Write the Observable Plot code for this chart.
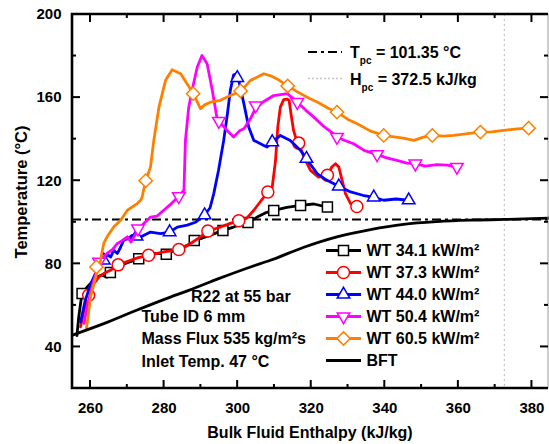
<!DOCTYPE html>
<html>
<head>
<meta charset="utf-8">
<script src="https://cdn.jsdelivr.net/npm/d3@7"></script>
<script src="https://cdn.jsdelivr.net/npm/@observablehq/plot@0.6"></script>
<style>
  html, body { margin: 0; padding: 0; background: #ffffff; }
  #chart { width: 549px; height: 444px; }
</style>
</head>
<body>
<div id="chart"></div>
<script>
// ---------- values (H in kJ/kg, T in °C) ----------
const xTicks = [260, 280, 300, 320, 340, 360, 380];
const xMinorTicks = [270, 290, 310, 330, 350, 370];
const yTicks = [40, 80, 120, 160, 200];
const yMinorTicks = [60, 100, 140, 180];
const xDomain = [255.1, 384.5];
const yDomain = [20, 200];
const tpcValue = [101.35];
const hpcValue = [372.5];

const xTitle = "Bulk Fluid Enthalpy (kJ/kg)";
const yTitle = "Temperature (°C)";
const seriesLabels = ["WT 34.1 kW/m²", "WT 37.3 kW/m²", "WT 44.0 kW/m²", "WT 50.4 kW/m²", "WT 60.5 kW/m²", "BFT"];
const annotationLines = ["R22 at 55 bar", "Tube ID 6 mm", "Mass Flux 535 kg/m²s", "Inlet Temp. 47 °C"];

const wt341 = [[256.3,45.5],[256.8,54.5],[257.3,61],[257.7,65.7],[258.5,67.5],[259.1,68.9],[260.5,71.5],[261.8,73.7],[263,74.6],[264.5,73.6],[265.5,76],[267.3,78.5],[270,80.5],[273.1,82.4],[275,83.8],[277.2,85],[280.6,84.8],[282.5,86.2],[284.5,87.4],[286.5,89],[288.3,91.2],[290.5,92.5],[292.6,93.8],[296,96.1],[298.9,97.7],[300.8,99],[302.8,99.9],[305.3,102.5],[307.5,104.5],[309.8,105.7],[313.4,107.2],[317.1,108.1],[320.7,108.8],[324.4,107.3]];
const wt341Markers = [[257.7,65.7],[265.4,75.8],[273.1,82.4],[280.6,84.6],[288.2,91.2],[296,96.1],[302.8,99.9],[309.8,105.7],[317.1,108.1],[324.4,107.3]];

const wt373 = [[257.3,49.7],[258.2,57.7],[259.5,64.9],[260.9,70.5],[262.3,73.7],[263.6,75.3],[265.4,76.9],[267.5,79.5],[270.9,81.7],[273,83],[275.8,84.1],[279.9,85.7],[284,86.9],[287.2,89.8],[289.5,92.5],[291.9,95.8],[295.3,97.7],[298,99.5],[300.3,100.7],[302.5,102],[304.4,105.8],[306.2,110],[308.2,114.6],[309.4,117],[310.3,129.8],[310.9,145.8],[311.6,155.4],[312.5,159],[313.5,159.3],[314,158.6],[314.5,152.2],[315.2,144.2],[316,139.4],[316.6,138.1],[318,131.4],[319.8,125],[322,121.7],[324.4,122.6],[325.6,126.6],[326.6,128.2],[327.5,126.6],[328.4,120.2],[329.3,113.8],[330.7,109],[332.4,107.6]];
const wt373Markers = [[259.5,64.9],[267.5,79.5],[275.8,84.1],[284,86.9],[291.9,95.8],[300.3,100.7],[308.2,114.6],[316.6,138.1],[324.4,122.6],[332.4,107.6]];

const wt440 = [[257.3,52],[258.5,62],[260,70],[261.5,76],[262.5,79],[263.6,81.7],[264.5,84.5],[265.5,83.3],[266.3,86.5],[267.3,85],[268.2,88.1],[269,91.3],[270.5,92.5],[271.3,93.7],[272.5,93],[273.6,92.9],[276.3,95.3],[279,94.5],[281.5,95.3],[283.6,97.7],[286.3,98.6],[288.5,100],[291,103.4],[292.5,107],[293.5,113.8],[294.8,125],[296.2,139.4],[297.2,152],[298,163.5],[298.9,171],[299.5,171.3],[300.3,168.3],[301.7,157],[303,145.8],[304.4,139.4],[305.3,138.6],[307.1,137],[308,136.2],[309.4,138.6],[311.6,141.8],[314.3,139.4],[317.1,134.6],[318.7,130.6],[321.6,123.4],[324.3,120.2],[327.5,117.3],[330.7,114.6],[334,113],[337,112],[339.7,110.6],[343,111.2],[346.5,110.6]];
const wt440Markers = [[263.6,81.7],[272.5,93.2],[281.5,95.3],[291,103.4],[299.9,169.5],[309.4,138.6],[318.7,130.6],[327.5,117.3],[337,112],[346.5,110.6]];

const wt504 = [[258.2,51.3],[259.1,59.3],[260,66],[260.9,72],[262.3,80.5],[263.5,83],[264.5,85],[266,87],[267.3,89.8],[268.5,91],[270,93],[271,90.5],[273.1,97],[276.3,102.5],[278.1,103],[279.9,105.8],[282,109],[284,112.5],[285.4,115.4],[285.8,139.4],[286.7,155.4],[287.6,163.4],[289,174.6],[290.3,180.3],[291.7,176.3],[293.1,163.5],[294.4,149.9],[295.5,147.5],[297.1,144.2],[298.9,141],[300.5,144],[301.7,145],[303.5,149.9],[305,155.4],[307,158],[309.8,161],[313.5,161.9],[316.2,157.8],[318.5,154],[320.7,150.6],[323.5,146],[326.1,142.6],[327,141],[329,139.5],[331.5,137.8],[334.5,134.5],[337.9,132.7],[340.5,131],[343.3,129.8],[346,128.5],[348.3,128.2],[351,127],[354.2,127.7],[357,127.5],[359.6,126.6]];
const wt504Markers = [[262.3,81],[272.9,96.9],[284,112.5],[294.9,148.7],[304.9,156.2],[316.2,157.8],[327,141],[337.9,132.7],[348.3,128.2],[359.6,126.6]];

const wt605 = [[258.9,49],[259.5,57],[260,64],[261,71],[261.8,76],[262.7,81.7],[263.6,89.8],[264.5,93],[266.3,97.7],[268.2,101],[270,105.8],[272.7,109],[273.6,110.6],[274,112],[275,120],[276.3,126.6],[277.2,139.4],[278.6,155.4],[280.4,168.3],[282.2,173.4],[284.5,171.5],[286.5,166],[287.9,161.9],[289.9,154.7],[291,156.5],[292.6,157.8],[295.3,158.7],[298,161],[300.8,163],[303.5,168.3],[305.5,170],[307.1,171.5],[309,170.5],[310.7,169],[313.4,165.9],[316,163],[318.9,160.2],[322,157.5],[324.5,155],[327,153],[330,149.5],[332.5,147.4],[336,144],[339.7,141.8],[343,141],[345,140.5],[347.9,139.4],[350.5,141],[352.9,141.8],[356,141.5],[358.7,141.8],[362,142.5],[366,143.4],[369,143.5],[372.3,144.2],[376,145],[379.1,145.3]];
const wt605Markers = [[261.6,78.5],[275,120],[287.9,161.9],[300.8,163.2],[313.6,165.6],[327,153],[339.7,141.8],[352.9,141.8],[366,143.4],[379.1,145.3]];

const bft = [[255.1,45.7],[263.6,51.2],[272,57.3],[281.7,64],[286.7,67.2],[295,73],[303.5,78.5],[308.9,81.7],[318,88],[327,93],[336.1,96.5],[345.1,99],[354.2,100.3],[363.3,101],[372.5,101.35],[384.5,102]];

// ---------- styling ----------
const FONT = '"Liberation Sans", Arial, Helvetica, sans-serif';
const triDown = {draw(ctx, size) {
  const y = Math.sqrt(size / (Math.sqrt(3) * 3));
  ctx.moveTo(0, 2 * y); ctx.lineTo(-Math.sqrt(3) * y, -y); ctx.lineTo(Math.sqrt(3) * y, -y); ctx.closePath();
}};
const diamond = {draw(ctx, size) {
  const h = Math.sqrt(size / 2);
  ctx.moveTo(0, -h); ctx.lineTo(h, 0); ctx.lineTo(0, h); ctx.lineTo(-h, 0); ctx.closePath();
}};
const styles = [
  {color: "#000000", symbol: d3.symbolSquare, area: 100},
  {color: "#ff0000", symbol: d3.symbolCircle, area: 113},
  {color: "#0000ff", symbol: d3.symbolTriangle, area: 68},
  {color: "#ff00ff", symbol: triDown, area: 68},
  {color: "#ff8000", symbol: diamond, area: 88}
];
const curves = [wt341, wt373, wt440, wt504, wt605];
const markerSets = [wt341Markers, wt373Markers, wt440Markers, wt504Markers, wt605Markers];

const marks = [
  Plot.ruleX(hpcValue, {x: d => d, stroke: "#c4c4c4", strokeWidth: 1.2, strokeDasharray: "2,3"}),
  Plot.ruleY(tpcValue, {y: d => d, stroke: "#000", strokeWidth: 2, strokeDasharray: "9,4,3,4"})
];
curves.forEach((c, i) => {
  marks.push(Plot.line(c, {x: d => d[0], y: d => d[1], stroke: styles[i].color, strokeWidth: 2.8, strokeLinejoin: "round"}));
  marks.push(Plot.dot(markerSets[i], {x: d => d[0], y: d => d[1], symbol: styles[i].symbol,
    r: Math.sqrt(styles[i].area / Math.PI), stroke: styles[i].color, fill: "white", strokeWidth: 1.5}));
});
marks.push(Plot.line(bft, {x: d => d[0], y: d => d[1], stroke: "#000", strokeWidth: 2.8, curve: "monotone-x"}));
marks.push(Plot.axisX({ticks: xTicks, tickSize: 0, tickPadding: 14, label: null}));
marks.push(Plot.axisY({ticks: yTicks, tickSize: 0, tickPadding: 11, label: null}));

const chart = Plot.plot({
  width: 549, height: 444,
  marginLeft: 72, marginRight: 1, marginTop: 14, marginBottom: 56,
  x: {domain: xDomain},
  y: {domain: yDomain},
  style: {fontFamily: FONT, fontSize: "15px", fontWeight: "bold", color: "#000", background: "#fff", overflow: "visible"},
  marks
});
document.getElementById("chart").append(chart);

// ---------- frame, inward ticks, titles, legends (from Plot's scales) ----------
const svg = d3.select(chart);
const sx = chart.scale("x"), sy = chart.scale("y");
const X = v => sx.apply(v), Y = v => sy.apply(v);
const L = X(xDomain[0]), R = X(xDomain[1]), B = Y(yDomain[0]), T = Y(yDomain[1]);

const g = svg.append("g").attr("fill", "none");
g.append("line").attr("x1", R).attr("x2", R).attr("y1", T).attr("y2", B).attr("stroke", "#9a9a9a").attr("stroke-width", 1);
g.append("path").attr("d", `M${R},${T}H${L}V${B}H${R}`).attr("stroke", "#000").attr("stroke-width", 2.6).attr("stroke-linejoin", "miter");
const tick = (x1, y1, x2, y2) => g.append("line").attr("x1", x1).attr("y1", y1).attr("x2", x2).attr("y2", y2).attr("stroke", "#000").attr("stroke-width", 2);
xTicks.forEach(v => { tick(X(v), B, X(v), B - 8); tick(X(v), T, X(v), T + 8); });
xMinorTicks.forEach(v => { tick(X(v), B, X(v), B - 4); tick(X(v), T, X(v), T + 4); });
yTicks.filter(v => v < yDomain[1]).forEach(v => { tick(L, Y(v), L + 8, Y(v)); tick(R, Y(v), R - 8, Y(v)); });
yMinorTicks.forEach(v => { tick(L, Y(v), L + 4, Y(v)); tick(R, Y(v), R - 4, Y(v)); });

const txt = svg.append("g").attr("font-family", FONT).attr("font-weight", "bold").attr("fill", "#000").attr("text-anchor", "start");
txt.append("text").attr("x", (L + R) / 2).attr("y", 438).attr("text-anchor", "middle").attr("font-size", 16).text(xTitle);
txt.append("text").attr("transform", "translate(27,192) rotate(-90)").attr("text-anchor", "middle").attr("font-size", 16.5).text(yTitle);

// Tpc / Hpc key
const key = txt.append("g").attr("font-size", 16);
key.append("line").attr("x1", 308).attr("x2", 342).attr("y1", 52).attr("y2", 52)
  .attr("stroke", "#000").attr("stroke-width", 2).attr("stroke-dasharray", "9,4,3,4");
const tt = key.append("text").attr("x", 350).attr("y", 58);
tt.append("tspan").text("T");
tt.append("tspan").attr("font-size", 10).attr("dy", 6).text("pc");
tt.append("tspan").attr("dy", -6).text("\u00A0= " + tpcValue[0] + " °C");
key.append("line").attr("x1", 308).attr("x2", 342).attr("y1", 78.5).attr("y2", 78.5)
  .attr("stroke", "#c4c4c4").attr("stroke-width", 1.5).attr("stroke-dasharray", "2,2");
const th = key.append("text").attr("x", 350).attr("y", 85);
th.append("tspan").text("H");
th.append("tspan").attr("font-size", 10).attr("dy", 6).text("pc");
th.append("tspan").attr("dy", -6).text("\u00A0= " + hpcValue[0] + " kJ/kg");

// series legend
const lg = txt.append("g").attr("font-size", 16);
seriesLabels.forEach((lab, i) => {
  const base = 256 + i * 22;
  const cy = base - 5.5;
  const color = i < styles.length ? styles[i].color : "#000";
  lg.append("line").attr("x1", 326).attr("x2", 361).attr("y1", cy).attr("y2", cy).attr("stroke", color).attr("stroke-width", 2.8);
  if (i < styles.length) {
    lg.append("path").attr("transform", `translate(343.5,${cy})`)
      .attr("d", d3.symbol(styles[i].symbol, styles[i].area)())
      .attr("fill", "white").attr("stroke", color).attr("stroke-width", 1.5);
  }
  lg.append("text").attr("x", 366.5).attr("y", base).text(lab);
});

// run conditions
const ann = txt.append("g").attr("font-size", 16);
const annX = [191, 141.5, 141.5, 141.5];
const annY = [301.5, 322, 344, 366.5];
annotationLines.forEach((s, i) => ann.append("text").attr("x", annX[i]).attr("y", annY[i]).text(s));
</script>
</body>
</html>
